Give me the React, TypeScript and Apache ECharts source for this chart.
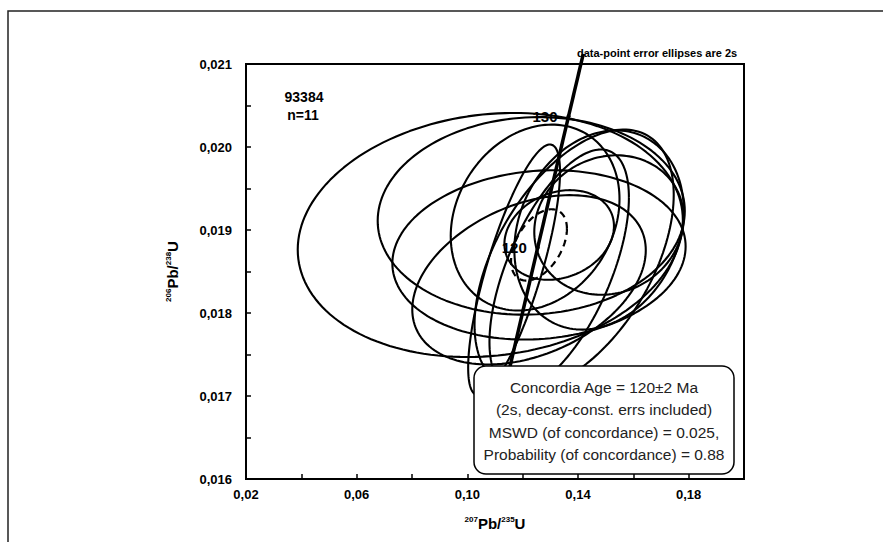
import React, { useEffect, useRef } from "react";
import * as echarts from "echarts";

// Decay constants (per year)
const LAMBDA_238 = 1.55125e-10;
const LAMBDA_235 = 9.8485e-10;

// Concordia curve age range (Ma) and labelled ages
const concordiaRangeMa = [105, 134.9];
const concordiaLabelAgesMa = [120, 130];

// Data-point error ellipses (2s half-extents, correlation)
const ellipseX = [0.1083, 0.1231, 0.1259, 0.1223, 0.1245, 0.1169, 0.1386, 0.1476, 0.1332, 0.1332, 0.1512];
const ellipseY = [0.01894, 0.01917, 0.0187, 0.0184, 0.01915, 0.01852, 0.01864, 0.019, 0.01894, 0.01852, 0.01906];
const ellipseXErr = [0.0696, 0.0555, 0.053, 0.0422, 0.0305, 0.0166, 0.036, 0.0306, 0.0198, 0.0252, 0.027];
const ellipseYErr = [0.00147, 0.00119, 0.00102, 0.00102, 0.00112, 0.00151, 0.00157, 0.0012, 0.00054, 0.00145, 0.00084];
const ellipseRho = [0.12, 0.05, 0.1, 0.35, 0.2, 0.78, 0.5, 0.2, 0.2, 0.6, 0.1];

// Concordia age ellipse (dashed)
const concX = 0.1259;
const concY = 0.01882;
const concXErr = 0.0101;
const concYErr = 0.00043;
const concRho = 0.45;

const sampleLabel = ["93384", "n=11"];
const resultLines = [
  "Concordia Age = 120\u00b12 Ma",
  "(2s, decay-const. errs included)",
  "MSWD (of concordance) = 0.025,",
  "Probability (of concordance) = 0.88",
];

function ellipsePoints(cx: number, cy: number, ex: number, ey: number, rho: number) {
  const pts: number[][] = [];
  const n = 160;
  const s = Math.sqrt(1 - rho * rho);
  for (let i = 0; i <= n; i++) {
    const t = (i / n) * Math.PI * 2;
    pts.push([cx + ex * Math.cos(t), cy + ey * (rho * Math.cos(t) + s * Math.sin(t))]);
  }
  return pts;
}

function concordiaPoint(ageMa: number) {
  const t = ageMa * 1e6;
  return [Math.exp(LAMBDA_235 * t) - 1, Math.exp(LAMBDA_238 * t) - 1];
}

const FONT = "'Liberation Sans', Arial, sans-serif";

export default function App() {
  const ref = useRef<HTMLDivElement>(null);
  useEffect(() => {
    if (!ref.current) return;
    const chart = echarts.init(ref.current, undefined, { renderer: "svg" });

    const series: any[] = [];
    for (let i = 0; i < ellipseX.length; i++) {
      series.push({
        type: "line",
        data: ellipsePoints(ellipseX[i], ellipseY[i], ellipseXErr[i], ellipseYErr[i], ellipseRho[i]),
        showSymbol: false,
        lineStyle: { color: "#000", width: 2.1 },
        silent: true,
        z: 2,
      });
    }
    series.push({
      type: "line",
      data: ellipsePoints(concX, concY, concXErr, concYErr, concRho),
      showSymbol: false,
      lineStyle: { color: "#000", width: 2.2, type: [7, 5] },
      z: 3,
    });
    const curve: number[][] = [];
    for (let a = concordiaRangeMa[0]; a <= concordiaRangeMa[1] + 1e-9; a += 0.25) curve.push(concordiaPoint(a));
    series.push({
      type: "line",
      data: curve,
      showSymbol: false,
      clip: false,
      lineStyle: { color: "#000", width: 3.5 },
      z: 4,
    });
    series.push({
      type: "scatter",
      data: concordiaLabelAgesMa.map((a) => ({ value: concordiaPoint(a), name: String(a) })),
      symbolSize: 4,
      itemStyle: { color: "#000", opacity: 1 },
      label: {
        show: true,
        position: "left",
        distance: 9,
        formatter: (p: any) => p.name,
        color: "#000",
        opacity: 1,
        fontWeight: "bold",
        fontSize: 15,
        fontFamily: FONT,
      },
      z: 5,
    });

    const richName = {
      s: { fontSize: 8, fontWeight: "bold", fontFamily: FONT, color: "#000", verticalAlign: "top", lineHeight: 16 },
      b: { fontSize: 15, fontWeight: "bold", fontFamily: FONT, color: "#000", verticalAlign: "bottom", lineHeight: 16 },
    };

    const option: any = {
      animation: false,
      grid: { left: 246, top: 64, right: 139, bottom: 63, show: true, borderColor: "#000", borderWidth: 2 },
      xAxis: {
        type: "value",
        min: 0.02,
        max: 0.2,
        interval: 0.02,
        axisLine: { lineStyle: { color: "#000", width: 2 } },
        axisTick: { inside: true, length: 5, lineStyle: { color: "#000", width: 1.5 } },
        splitLine: { show: false },
        axisLabel: {
          margin: 9,
          color: "#000",
          fontWeight: "bold",
          fontSize: 13,
          fontFamily: FONT,
          formatter: (v: number) => (Math.round((v - 0.02) / 0.02) % 2 === 0 ? v.toFixed(2).replace(".", ",") : ""),
        },
        name: "{s|207}{b|Pb/}{s|235}{b|U}",
        nameLocation: "middle",
        nameGap: 36,
        nameTextStyle: { rich: richName },
      },
      yAxis: {
        type: "value",
        min: 0.016,
        max: 0.021,
        interval: 0.0005,
        axisLine: { lineStyle: { color: "#000", width: 2 } },
        axisTick: { inside: true, length: 5, lineStyle: { color: "#000", width: 1.5 } },
        splitLine: { show: false },
        axisLabel: {
          margin: 14,
          color: "#000",
          fontWeight: "bold",
          fontSize: 13,
          fontFamily: FONT,
          formatter: (v: number) => (Math.round((v - 0.016) / 0.0005) % 2 === 0 ? v.toFixed(3).replace(".", ",") : ""),
        },
        name: "{s|206}{b|Pb/}{s|238}{b|U}",
        nameLocation: "middle",
        nameRotate: 90,
        nameGap: 66,
        nameTextStyle: { rich: richName },
      },
      graphic: [
        {
          type: "polyline",
          shape: { points: [[8, 542], [8, 11], [883, 11]] },
          style: { stroke: "#222", lineWidth: 1.5, fill: "none" },
          silent: true,
          z: 50,
        },
        {
          type: "text",
          x: 304,
          y: 97,
          style: { text: sampleLabel[0], align: "center", verticalAlign: "middle", font: `bold 14px ${FONT}`, fill: "#000" },
          z: 50,
        },
        {
          type: "text",
          x: 303,
          y: 115,
          style: { text: sampleLabel[1], align: "center", verticalAlign: "middle", font: `bold 14px ${FONT}`, fill: "#000" },
          z: 50,
        },
        {
          type: "text",
          x: 577,
          y: 53,
          style: { text: "data-point error ellipses are 2s", align: "left", verticalAlign: "middle", font: `bold 11px ${FONT}`, fill: "#000" },
          z: 50,
        },
        {
          type: "rect",
          shape: { x: 474, y: 366, width: 260, height: 108, r: 12 },
          style: { fill: "#fff", stroke: "#000", lineWidth: 1.5 },
          z: 100,
        },
        ...resultLines.map((t, i) => ({
          type: "text",
          x: 604,
          y: 387 + i * 22.5,
          style: { text: t, align: "center", verticalAlign: "middle", font: `15.5px ${FONT}`, fill: "#222" },
          z: 101,
        })),
      ],
      series,
    };
    chart.setOption(option);
    return () => chart.dispose();
  }, []);
  return <div ref={ref} style={{ position: "fixed", left: 0, top: 0, width: 883, height: 542, background: "#fff" }} />;
}
